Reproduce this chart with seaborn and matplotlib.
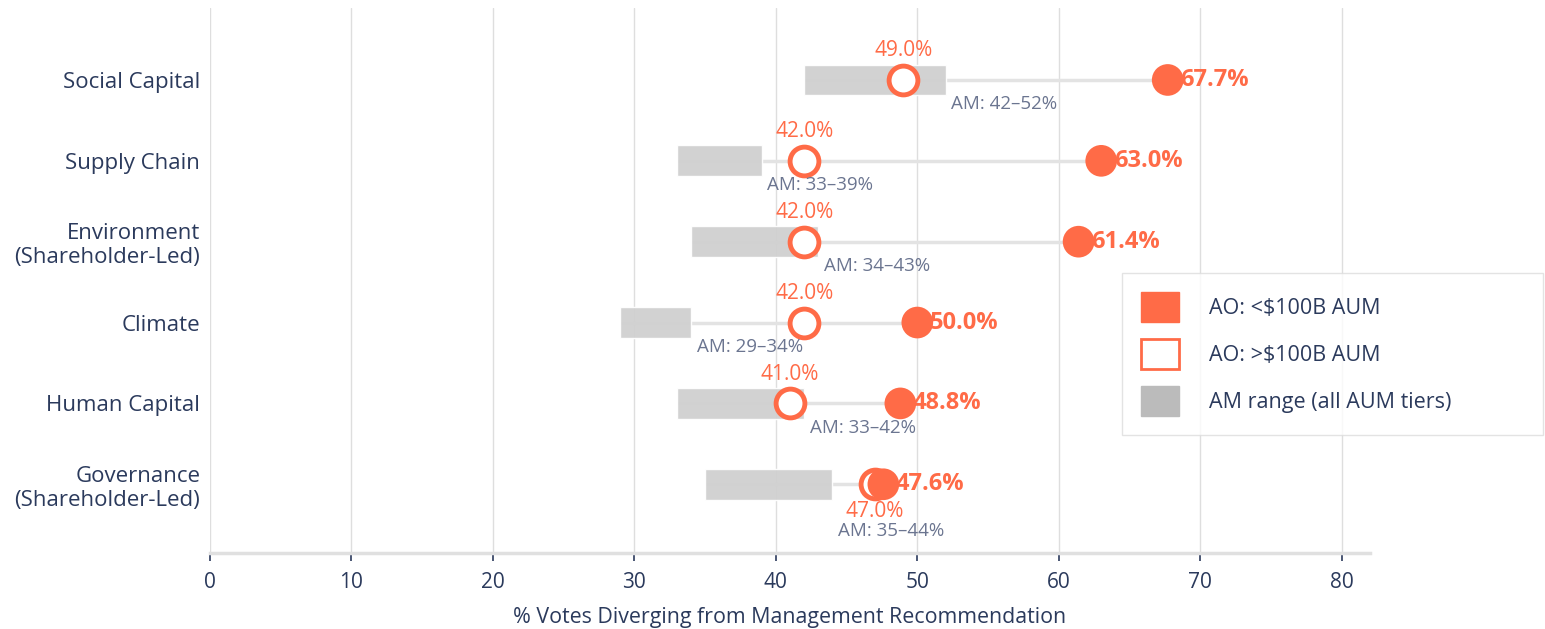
import matplotlib
matplotlib.use("Agg")
import matplotlib.pyplot as plt
from matplotlib.patches import Patch
import seaborn as sns
import pandas as pd

categories = ["Social Capital", "Supply Chain", "Environment\n(Shareholder-Led)",
              "Climate", "Human Capital", "Governance\n(Shareholder-Led)"]
ao_small = [67.7, 63.0, 61.4, 50.0, 48.8, 47.6]   # AO: <$100B AUM
ao_large = [49.0, 42.0, 42.0, 42.0, 41.0, 47.0]   # AO: >$100B AUM
am_low = [42, 33, 34, 29, 33, 35]
am_high = [52, 39, 43, 34, 42, 44]

ORANGE = "#FF6B47"
NAVY = "#2B3A5C"
SLATE = "#6B7590"

sns.set_theme(style="white")
plt.rcParams["font.family"] = ["Open Sans", "DejaVu Sans"]

df = pd.DataFrame({"cat": categories, "small": ao_small, "large": ao_large,
                   "lo": am_low, "hi": am_high})
df["y"] = range(len(df))

fig = plt.figure(figsize=(15.45, 6.29), dpi=100)
ax = fig.add_axes([210 / 1545, 1 - 553 / 629, 1160 / 1545, 545 / 629])

ax.set_xlim(0, 82)
ax.set_ylim(5.85, -0.89)
ax.set_xticks(range(0, 81, 10))
ax.grid(axis="x", color="#dedede", lw=1)
ax.set_axisbelow(True)

# connector line
ax.hlines(df["y"], df["lo"], df["small"], color="#e3e3e3", lw=2.5, zorder=1)
# AM range bars
ax.barh(df["y"], df["hi"] - df["lo"], left=df["lo"], height=0.38,
        color="#d0d0d0", alpha=0.95, zorder=2)

sns.scatterplot(data=df, x="large", y="y", s=430, color="white",
                edgecolor=ORANGE, linewidth=3.5, zorder=3, ax=ax, legend=False)
sns.scatterplot(data=df, x="small", y="y", s=520, color=ORANGE,
                edgecolor="none", zorder=4, ax=ax, legend=False)

for i, r in df.iterrows():
    ax.text(r["small"] + 0.9, r["y"], f"{r['small']:.1f}%", color=ORANGE,
            fontsize=17, fontweight="bold", va="center", ha="left", zorder=5)
    below = i == len(df) - 1
    ax.text(r["large"], r["y"] + (0.34 if below else -0.36), f"{r['large']:.1f}%",
            color=ORANGE, fontsize=15, va="center", ha="center", zorder=5)
    ax.text(r["hi"] + 0.4, r["y"] + (0.58 if below else 0.30),
            f"AM: {r['lo']}\u2013{r['hi']}%", color=SLATE, fontsize=13.5,
            va="center", ha="left", zorder=5)

ax.set_yticks(df["y"])
ax.set_yticklabels(categories, fontsize=16, color=NAVY, ha="right")
ax.tick_params(axis="y", length=0, pad=7)
ax.tick_params(axis="x", length=6, width=1.2, color=NAVY, labelsize=15,
               labelcolor=NAVY, pad=8, bottom=True, direction="out")
ax.set_xlabel("% Votes Diverging from Management Recommendation",
              fontsize=15.4, color=NAVY, labelpad=10)
ax.set_ylabel("")

for s in ["top", "right", "left"]:
    ax.spines[s].set_visible(False)
ax.spines["bottom"].set_color("#e0e0e0")
ax.spines["bottom"].set_linewidth(2.5)

handles = [
    Patch(facecolor=ORANGE, edgecolor=ORANGE, label="AO: <$100B AUM"),
    Patch(facecolor="white", edgecolor=ORANGE, linewidth=2, label="AO: >$100B AUM"),
    Patch(facecolor="#bbbbbb", edgecolor="#bbbbbb", label="AM range (all AUM tiers)"),
]
fig.legend(handles=handles, loc="upper left", mode="expand",
           bbox_to_anchor=(1122 / 1545, 1 - 438 / 629, 421 / 1545, 165 / 629),
           fontsize=15.5, labelcolor=NAVY, frameon=True, fancybox=False,
           edgecolor="#dddddd", handlelength=1.75, handleheight=1.75,
           handletextpad=1.4, labelspacing=0.8, borderpad=0.9, borderaxespad=0)

fig.savefig("out.png", dpi=100)
